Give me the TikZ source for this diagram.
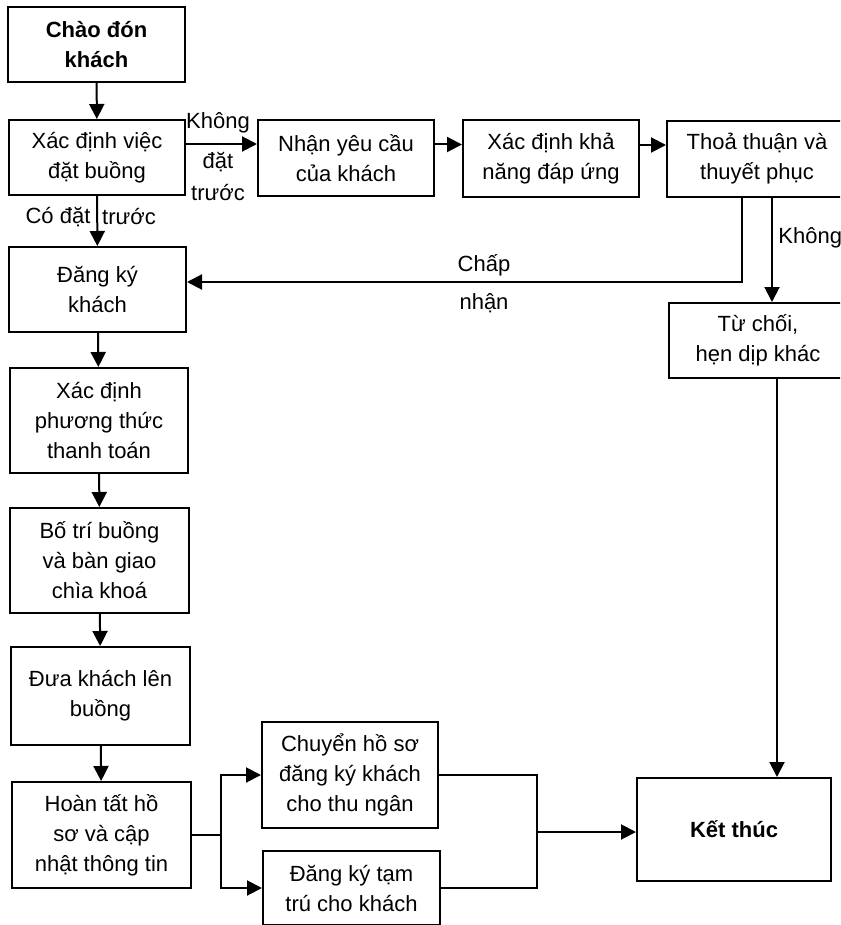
\documentclass[tikz,border=0pt]{standalone}
\usepackage{fontspec}
\setmainfont{Liberation Sans}
\usetikzlibrary{arrows.meta}

\begin{document}
\begin{tikzpicture}
	[x=0.5pt, y=-0.5pt, font=\fontsize{11}{15}\selectfont,
	box/.style={draw, line width=1pt, align=center, inner sep=0pt},
	dims/.style 2 args={minimum width=#1pt, minimum height=#2pt},
	link/.style={line width=1pt, -{Triangle[length=7.5pt,width=7.5pt]}},
	wire/.style={line width=1pt}]
	\clip (0,0) rectangle (840,925);
	\node[box, dims={88.5}{37.5}, font=\fontsize{11}{15}\selectfont\bfseries] (welcome) at (96.5,44.5) {Chào đón\\khách};
	\node[box, dims={88}{37.5}] (check) at (97,157.5) {Xác định việc\\đặt buồng};
	\node[box, dims={88}{38}] (request) at (346,158) {Nhận yêu cầu\\của khách};
	\node[box, dims={88}{38.5}] (ability) at (551,158.5) {Xác định khả\\năng đáp ứng};
	\node[box, dims={90}{38}] (agree) at (757,159) {Thoả thuận và\\thuyết phục};
	\node[box, dims={88.5}{42.5}] (register) at (97.5,289.5) {Đăng ký\\khách};
	\node[box, dims={89}{37.5}] (refuse) at (758,340.5) {Từ chối,\\hẹn dịp khác};
	\node[box, dims={89}{52.5}] (payment) at (99,420.5) {Xác định\\phương thức\\thanh toán};
	\node[box, dims={89.5}{52.5}] (room) at (99.5,560.5) {Bố trí buồng\\và bàn giao\\chìa khoá};
	\node[box, dims={89.5}{49}] (escort) at (100.5,696) {Đưa khách lên\\buồng};
	\node[box, dims={89.5}{53}] (finish) at (101.5,835) {Hoàn tất hồ\\sơ và cập\\nhật thông tin};
	\node[box, dims={88}{53}] (cashier) at (350,775) {Chuyển hồ sơ\\đăng ký khách\\cho thu ngân};
	\node[box, dims={88.5}{37}] (residence) at (351.5,888) {Đăng ký tạm\\trú cho khách};
	\node[box, dims={97}{51.5}, font=\fontsize{11}{15}\selectfont\bfseries] (end) at (734,829.5) {Kết thúc};

	\node (nobook) at (218,123) {Không};
	\node (nobook2) at (218,162) {đặt};
	\node (nobook3) at (218,193) {trước};
	\node (booked) at (58,217) {Có đặt};
	\node (booked2) at (129,217) {trước};
	\node (accept) at (484,265) {Chấp};
	\node (accept2) at (484,303) {nhận};
	\node[anchor=west, inner sep=0pt] (decline) at (778,238) {Không};

	\draw[link] (welcome) -- (check);
	\draw[link] (check) -- (register);
	\draw[link] ([yshift=6.75pt]check.east) -- ([yshift=6.75pt]check.east -| request.west);
	\draw[link] ([yshift=6.75pt]request.east) -- ([yshift=6.75pt]request.east -| ability.west);
	\draw[link] ([yshift=6.75pt]ability.east) -- ([yshift=6.75pt]ability.east -| agree.west);
	\draw[link] ([xshift=-7.5pt]agree.south) |- ([yshift=3.75pt]register.east);
	\draw[link] ([xshift=7.5pt]agree.south) -- ([xshift=7.5pt]agree.south |- refuse.north);
	\draw[link] ([xshift=9.5pt]refuse.south) -- ([xshift=9.5pt]refuse.south |- end.north);
	\draw[link] (register) -- (payment);
	\draw[link] (payment) -- (room);
	\draw[link] (room) -- (escort);
	\draw[link] (escort) -- (finish);
	\coordinate (split) at ([xshift=14.5pt]finish.east);
	\draw[wire] (finish.east) -- (split);
	\draw[link] (split) |- (cashier.west);
	\draw[link] (split) |- (residence.west);
	\coordinate (join) at (537,832);
	\draw[wire] (cashier.east) -| (join);
	\draw[wire] (residence.east) -| (join);
	\draw[link] (join) -- (join -| end.west);
\end{tikzpicture}
\end{document}
